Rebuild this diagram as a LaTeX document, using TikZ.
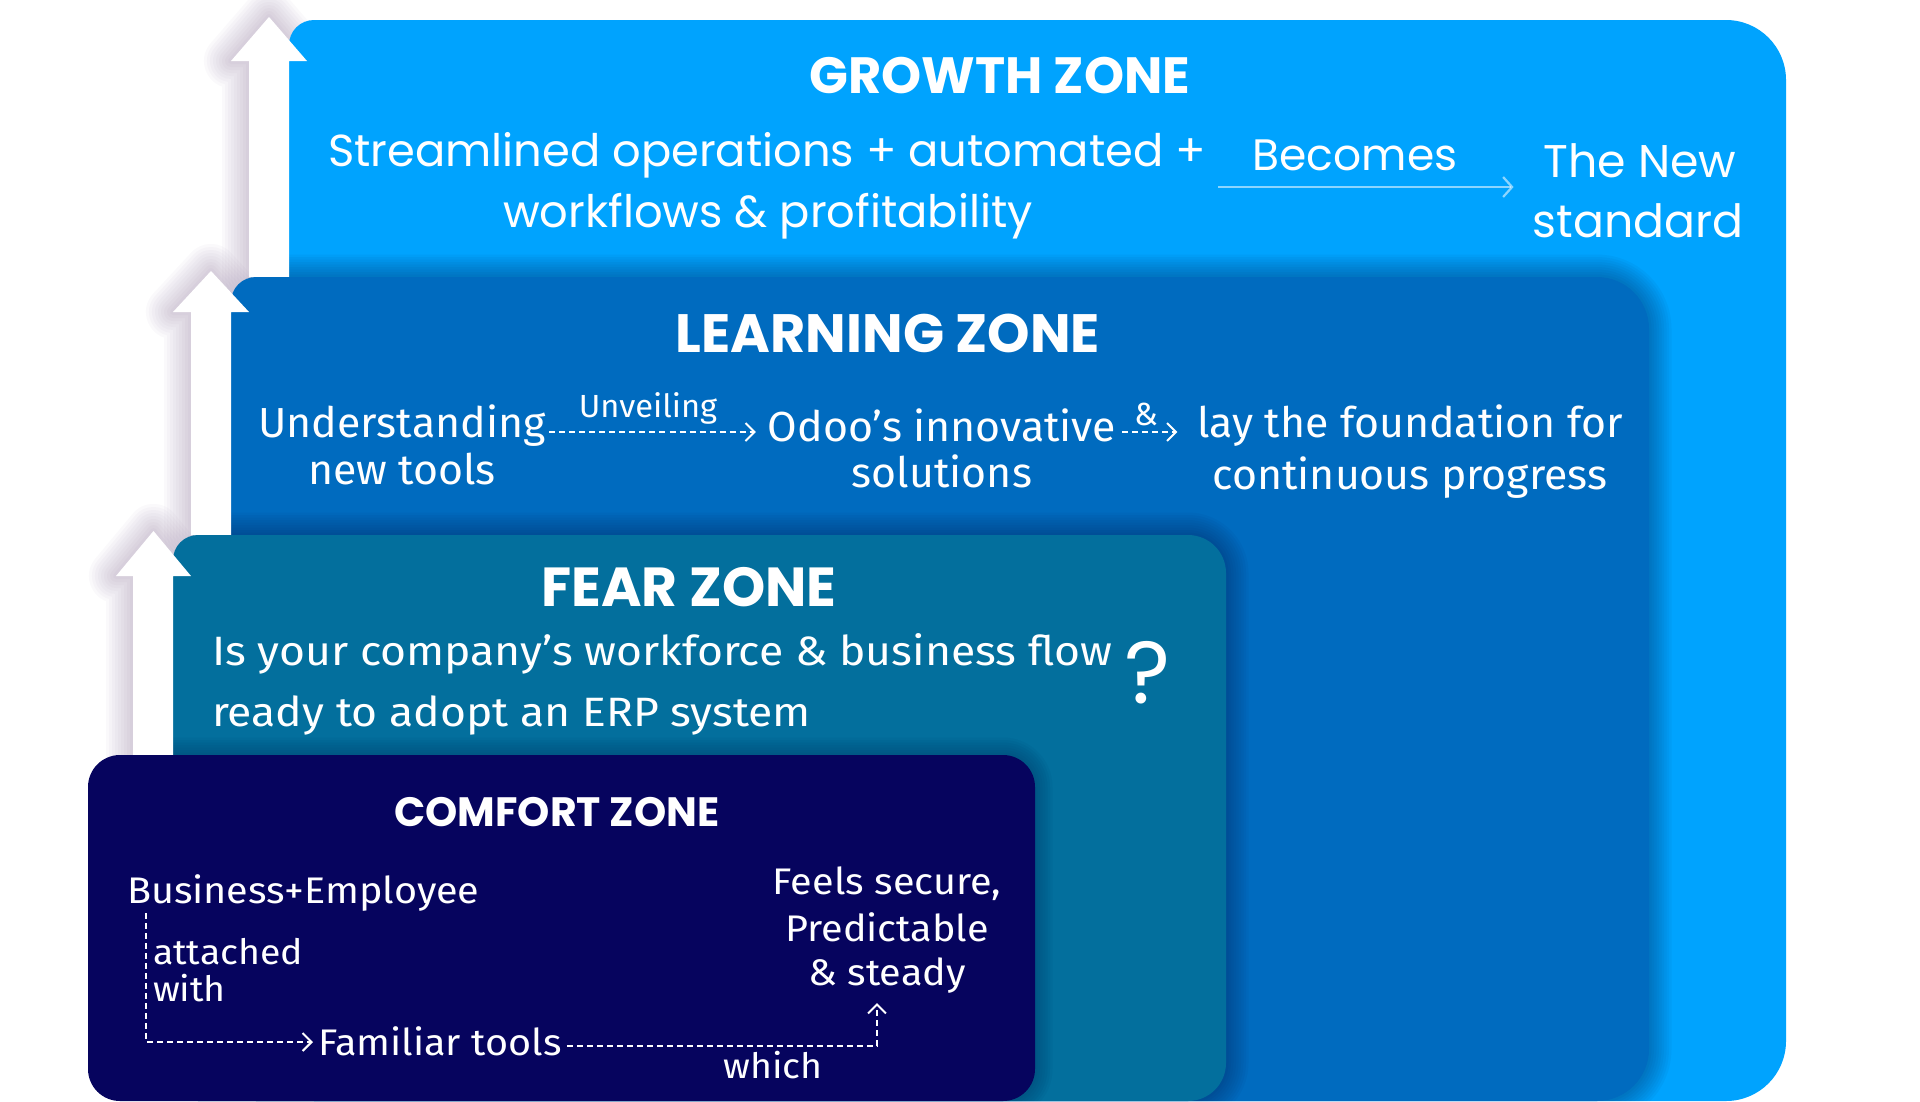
\documentclass[tikz,border=0pt]{standalone}
\usepackage{fontspec}
\setmainfont{Fira Sans}
\newfontfamily\pop{Poppins}
\newfontfamily\firaL[FakeStretch=1.02]{Fira Sans}
\newfontfamily\firaF[FakeStretch=1.085]{Fira Sans}
\newfontfamily\firaC[FakeStretch=1.07]{Fira Sans}
\usetikzlibrary{arrows.meta}
\definecolor{growthc}{RGB}{0,163,254}
\definecolor{learnc}{RGB}{0,107,191}
\definecolor{fearc}{RGB}{3,111,157}
\definecolor{comfc}{RGB}{6,4,94}
\definecolor{glowc}{RGB}{110,80,130}
\definecolor{shadec}{RGB}{0,25,70}
\newcommand\setfs[1]{\fontsize{#1}{#1}\selectfont}
% arrow outline: shaft left, shaft right, head left, head right, tip x, tip y, head base y, shaft bottom y
\newcommand\uparrowpath[8]{(#1,#8) -- (#1,#7) -- (#3,#7) -- (#5,#6) -- (#4,#7) -- (#2,#7) -- (#2,#8) -- cycle}
\newcommand\growthbox{[rounded corners=60pt] (289,20) rectangle (1786,1101) [rounded corners=25pt] (289,20) rectangle (700,1101)}
\newcommand\learnbox{[rounded corners=52pt] (231,277) rectangle (1649,1101) [rounded corners=25pt] (231,277) rectangle (640,1101)}
\newcommand\fearbox{[rounded corners=38pt] (173,535) rectangle (1226,1101) [rounded corners=25pt] (173,535) rectangle (560,1101)}
\newcommand\comfbox{[rounded corners=32pt] (88,755) rectangle (1035,1101)}
\tikzset{
  txt/.style={text=white, inner sep=0pt, outer sep=0pt, anchor=base},
  zonehead/.style={txt, font=\pop\bfseries\setfs{51}},
  gbody/.style={txt, font=\pop\setfs{44.8}},
  lbody/.style={txt, font=\firaL\setfs{42}},
  fbody/.style={txt, font=\firaF\setfs{41}, anchor=base west},
  cbody/.style={txt, font=\firaC\setfs{37}},
  csmall/.style={txt, font=\firaC\setfs{35}},
  smalltxt/.style={txt, font=\firaL\setfs{32}},
  dashconn/.style={draw=white, line width=1.6pt, dash pattern=on 6pt off 4pt,
    -{Straight Barb[length=9pt,width=18pt,line width=2pt]}},
  thinconn/.style={draw=white, draw opacity=0.55, line width=1.1pt,
    -{Straight Barb[length=9pt,width=20pt,line width=2.2pt]}},
  glow/.style={glowc, opacity=0.03, line join=round},
  shade/.style={shadec, opacity=0.04, line join=round},
  arrowfill/.style={fill=white}
}
\begin{document}
\begin{tikzpicture}[x=1pt,y=-1pt]
\useasboundingbox (0,0) rectangle (1920,1101);
\fill[white] (0,0) rectangle (1920,1101);

% soft glow beside the white arrows
\foreach \w in {6,12,...,54} {
  \draw[glow, line width=\w pt] \uparrowpath{249}{289}{231}{307}{269}{17}{61}{277};
  \draw[glow, line width=\w pt] \uparrowpath{191}{231}{173}{249}{211}{271}{312}{535};
  \draw[glow, line width=\w pt] \uparrowpath{133}{173}{116}{191}{153.5}{531}{576}{755};
}

% growth zone
\fill[growthc] \growthbox;
\begin{scope}
  \clip \growthbox;
  \foreach \w in {5,10,...,45} {\draw[shade, line width=\w pt] \learnbox;}
\end{scope}
\fill[arrowfill] \uparrowpath{249}{289}{231}{307}{269}{17}{61}{277};

% learning zone
\fill[learnc] \learnbox;
\begin{scope}
  \clip \learnbox;
  \foreach \w in {5,10,...,45} {\draw[shade, line width=\w pt] \fearbox;}
\end{scope}
\fill[arrowfill] \uparrowpath{191}{231}{173}{249}{211}{271}{312}{535};

% fear zone
\fill[fearc] \fearbox;
\begin{scope}
  \clip \fearbox;
  \foreach \w in {5,10,...,35} {\draw[shade, line width=\w pt] \comfbox;}
\end{scope}
\fill[arrowfill] \uparrowpath{133}{173}{116}{191}{153.5}{531}{576}{755};

% comfort zone
\fill[comfc] \comfbox;

% ---------- texts: growth
\node[zonehead] (gtitle) at (1000,93) {GROWTH ZONE};
\node[gbody] (gl1) at (767,166) {Streamlined operations + automated +};
\node[gbody] (gl2) at (768,227) {workflows \& profitability};
\node[gbody, font=\pop\setfs{44}] (becomes) at (1355,170) {Becomes};
\node[gbody, font=\pop\setfs{45.8}] (newa) at (1640,177) {The New};
\node[gbody, font=\pop\setfs{45.8}] (newb) at (1638,237) {standard};
\coordinate (bstart) at (1218,187);
\draw[thinconn, shorten >=30pt] (bstart) -- (newa.west |- bstart);

% ---------- texts: learning
\node[zonehead, font=\pop\bfseries\setfs{54}] (ltitle) at (888,352) {LEARNING ZONE};
\node[lbody] (und1) at (402,437) {Understanding};
\node[lbody] (und2) at (402,484) {new tools};
\node[smalltxt] (unv) at (648,417) {Unveiling};
\node[lbody] (odoo1) at (942,441) {Odoo’s innovative};
\node[lbody] (odoo2) at (942,487) {solutions};
\node[smalltxt] (amp) at (1146,425) {\&};
\node[lbody] (lay1) at (1410,437) {lay the foundation for};
\node[lbody] (lay2) at (1410,489) {continuous progress};
\coordinate (ly) at (0,432);
\draw[dashconn, shorten <=4pt, shorten >=12pt] (und1.east |- ly) -- (odoo1.west |- ly);
\draw[dashconn, shorten <=6pt, shorten >=20pt] (odoo1.east |- ly) -- (lay1.west |- ly);

% ---------- texts: fear
\node[zonehead, font=\pop\bfseries\setfs{55}] (ftitle) at (689,606) {FEAR ZONE};
\node[fbody] (fq1) at (212,665) {Is your company’s workforce \& business flow};
\node[fbody] (fq2) at (212,726) {ready to adopt an ERP system};
\node[txt, font=\pop\setfs{88}] (qmark) at (1148,703) {?};

% ---------- texts: comfort
\node[zonehead, font=\pop\bfseries\setfs{41}] (ctitle) at (557,826) {COMFORT ZONE};
\node[cbody, anchor=base west] (biz) at (127,903) {Business+Employee};
\node[csmall, anchor=base west] (att1) at (153,964) {attached};
\node[csmall, anchor=base west] (att2) at (153,1001) {with};
\node[cbody, anchor=base west] (fam) at (318,1055) {Familiar tools};
\node[csmall] (which) at (773,1078) {which};
\node[cbody] (feel1) at (887,894) {Feels secure,};
\node[cbody] (feel2) at (887,941) {Predictable};
\node[cbody] (feel3) at (887,985) {\& steady};
\coordinate (cstart) at (146,913);
\coordinate (cy1) at (0,1042);
\coordinate (cy2) at (0,1046);
\coordinate (cup) at (877,1003);
\draw[dashconn, shorten >=5pt] (cstart) |- (fam.west |- cy1);
\draw[dashconn, shorten <=5pt] (fam.east |- cy2) -| (cup);
\end{tikzpicture}
\end{document}
